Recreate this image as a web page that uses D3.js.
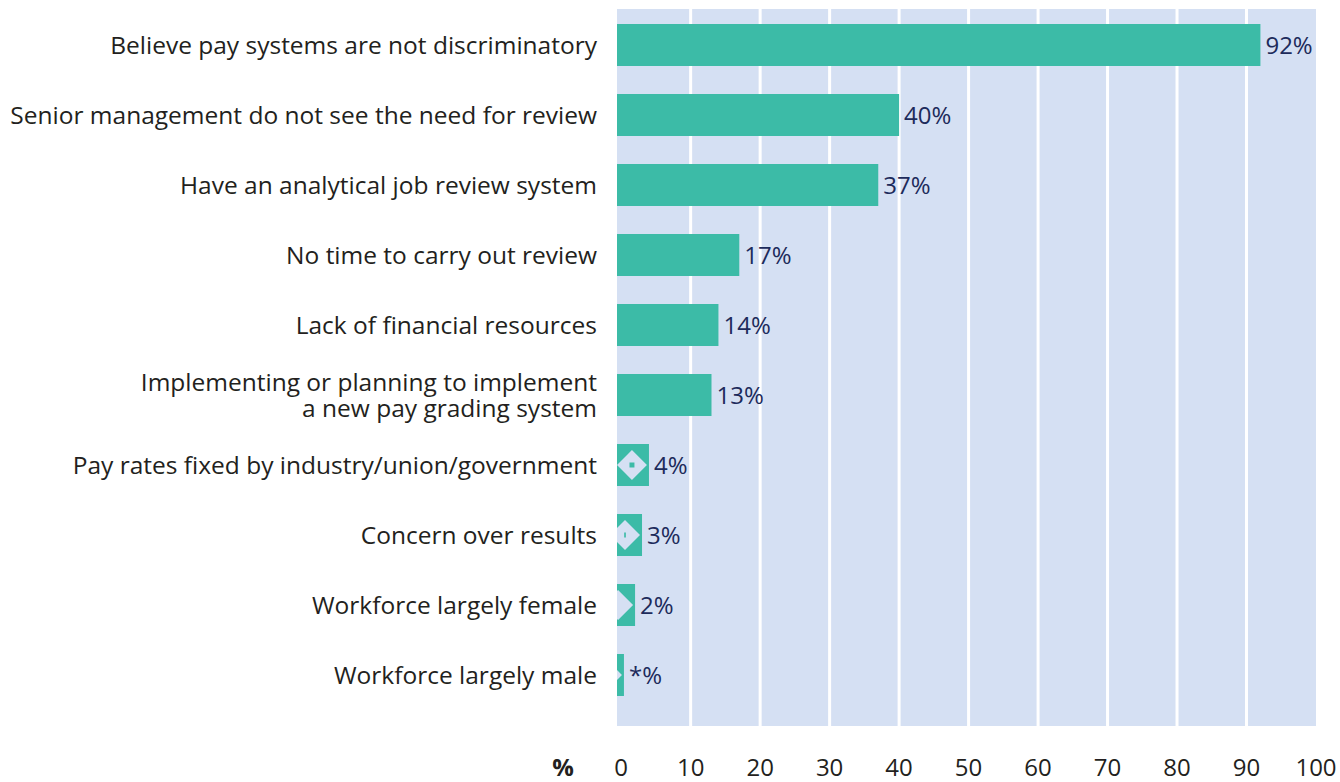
<!DOCTYPE html>
<html>
<head>
<meta charset="utf-8">
<script src="https://cdn.jsdelivr.net/npm/d3@7"></script>
<style>
  body { margin: 0; background: #ffffff; }
  svg { display: block; }
  text { font-family: "Open Sans", "Noto Sans", sans-serif; }
</style>
</head>
<body>
<svg id="chart" width="1340" height="782"></svg>
<script>
// Reasons given for not carrying out an equal pay review (% of respondents)
const categories = [
  ["Believe pay systems are not discriminatory"],
  ["Senior management do not see the need for review"],
  ["Have an analytical job review system"],
  ["No time to carry out review"],
  ["Lack of financial resources"],
  ["Implementing or planning to implement", "a new pay grading system"],
  ["Pay rates fixed by industry/union/government"],
  ["Concern over results"],
  ["Workforce largely female"],
  ["Workforce largely male"]
];
const values = [92, 40, 37, 17, 14, 13, 4, 3, 2, 0.4];
const tickValues = [0, 10, 20, 30, 40, 50, 60, 70, 80, 90, 100];
const axisUnit = "%";

const teal = "#3cbba7";
const panel = "#d5e0f3";
const navy = "#1d2b5b";
const ink = "#231f20";

const svg = d3.select("#chart");

// Horizontal scale: axis begins just below zero so bars sit flush with the panel edge
const x = d3.scaleLinear().domain([-0.6, 100]).range([617, 1316]);
const panelTop = 9, panelBottom = 726;

const y = d3.scaleBand()
  .domain(d3.range(categories.length))
  .range([24, 24 + 9.6 * 70])
  .paddingInner(0.4)
  .paddingOuter(0);

// Background panel
svg.append("rect")
  .attr("x", x.range()[0])
  .attr("y", panelTop)
  .attr("width", x.range()[1] - x.range()[0])
  .attr("height", panelBottom - panelTop)
  .attr("fill", panel);

// Vertical white gridlines
svg.append("g")
  .selectAll("line")
  .data(tickValues.filter(t => t > 0 && t < 100))
  .join("line")
  .attr("x1", d => x(d)).attr("x2", d => x(d))
  .attr("y1", panelTop).attr("y2", panelBottom)
  .attr("stroke", "#ffffff")
  .attr("stroke-width", 3);

const rows = svg.append("g")
  .selectAll("g")
  .data(values.map((v, i) => ({ v, i })))
  .join("g");

const x0 = x.domain()[0];

// Clip paths so the diamond notch stays inside its bar
const defs = svg.append("defs");
values.forEach((v, i) => {
  defs.append("clipPath").attr("id", "bar-clip-" + i)
    .append("rect")
    .attr("x", x(x0))
    .attr("y", y(i))
    .attr("width", x(v) - x(x0))
    .attr("height", y.bandwidth());
});

rows.append("rect")
  .attr("x", x(x0))
  .attr("y", d => y(d.i))
  .attr("width", d => x(d.v) - x(x0))
  .attr("height", y.bandwidth())
  .attr("fill", teal);

// Small bars carry a diamond-shaped notch near their tip
const half = 15;
const notched = rows.filter(d => d.v < 5)
  .append("g")
  .attr("clip-path", d => `url(#bar-clip-${d.i})`);

notched.append("path")
  .attr("d", d => {
    const cx = x(d.v) - 17;
    const cy = y(d.i) + y.bandwidth() / 2;
    return `M${cx - half},${cy}L${cx},${cy - half}L${cx + half},${cy}L${cx},${cy + half}Z`;
  })
  .attr("fill", panel);

// centre pip shrinks away as the bar narrows
const pipW = v => Math.max(0, Math.min(5, (v - 2.5) * 3.3));
notched.append("rect")
  .attr("width", d => pipW(d.v))
  .attr("height", 5)
  .attr("x", d => x(d.v) - 17 - pipW(d.v) / 2)
  .attr("y", d => y(d.i) + y.bandwidth() / 2 - 2.5)
  .attr("fill", teal);

// Value labels
rows.append("text")
  .attr("x", d => x(d.v) + 5)
  .attr("y", d => y(d.i) + y.bandwidth() / 2)
  .attr("dy", "0.36em")
  .attr("font-size", 24)
  .attr("fill", navy)
  .text(d => (d.v < 0.5 ? "*" : d3.format("d")(d.v)) + "%");

// Category labels, right-aligned against the panel
const lineH = 26;
rows.append("text")
  .attr("text-anchor", "end")
  .attr("font-size", 24.5)
  .attr("fill", ink)
  .each(function(d) {
    const lines = categories[d.i];
    const cy = y(d.i) + y.bandwidth() / 2;
    const t = d3.select(this);
    lines.forEach((ln, k) => {
      t.append("tspan")
        .attr("x", 597)
        .attr("y", cy + (k - (lines.length - 1) / 2) * lineH)
        .attr("dy", "0.36em")
        .text(ln);
    });
  });

// Axis tick labels along the bottom
svg.append("g")
  .selectAll("text")
  .data(tickValues)
  .join("text")
  .attr("x", d => x(d))
  .attr("y", 776)
  .attr("text-anchor", "middle")
  .attr("font-size", 24)
  .attr("fill", ink)
  .text(d => d);

svg.append("text")
  .attr("x", 563)
  .attr("y", 776)
  .attr("text-anchor", "middle")
  .attr("font-size", 24)
  .attr("font-weight", "bold")
  .attr("fill", ink)
  .text(axisUnit);
</script>
</body>
</html>
